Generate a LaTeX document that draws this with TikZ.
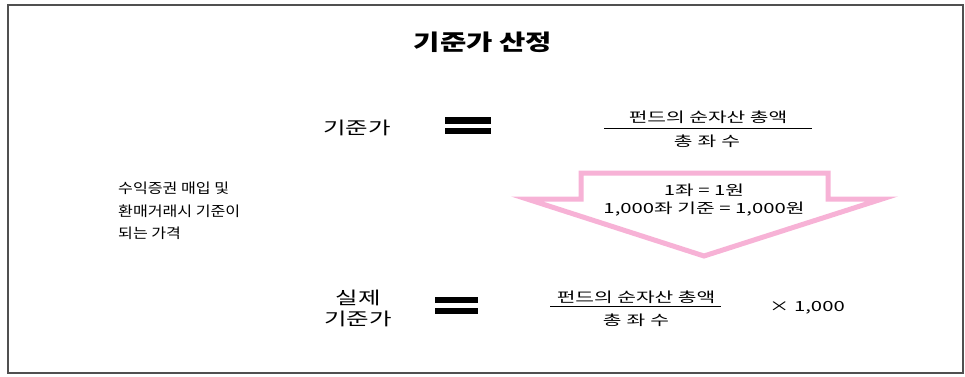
\documentclass[tikz,border=0pt]{standalone}
\usepackage{fontspec}
\setmainfont{Noto Sans CJK KR}
\newfontfamily\krA[FakeStretch=1.45]{Noto Sans CJK KR}
\newfontfamily\krB[FakeStretch=1.15]{Noto Sans CJK KR}
\newfontfamily\krT[FakeStretch=1.3]{Noto Sans CJK KR}
\newfontfamily\krL[FakeStretch=1.4]{Noto Sans CJK KR}
\definecolor{arrowpink}{RGB}{247,178,214}
\definecolor{frameg}{RGB}{80,80,80}
\begin{document}
\begin{tikzpicture}[x=1pt,y=-1pt,
  lbl/.style={font=\fontsize{17.5}{21}\selectfont\krL, inner sep=0pt, align=center},
  frac/.style={font=\fontsize{14}{16}\selectfont\krA, inner sep=0pt},
  small/.style={font=\fontsize{14}{22.5}\selectfont\krB, inner sep=0pt, align=left},
  bar/.style={fill=black, draw=none},
  fracline/.style={draw=black, line width=0.8pt},
  bigarrow/.style={draw=arrowpink, line width=5pt, fill=white, line join=miter}]
\useasboundingbox (0,0) rectangle (965,376);
\draw[frameg, line width=1.2pt] (8,5) rectangle (963,373);
\node[font=\fontsize{22}{24}\selectfont\bfseries\krT, inner sep=0pt] (title) at (483,42) {기준가 산정};
% first row
\node[lbl] (lab1) at (357,128) {기준가};
\fill[bar] (445,117) rectangle (491,124);
\fill[bar] (445,128) rectangle (491,134);
\node[frac] (num1) at (708,117) {펀드의 순자산 총액};
\draw[fracline] (604,128) -- (812,128);
\node[frac] (den1) at (707,141) {총\hspace{5pt}좌\hspace{5pt}수};
% arrow
\draw[bigarrow] (581,173) -- (828,173) -- (828,199) -- (882,199) -- (704,256) -- (527,199) -- (581,199) -- cycle;
\node[frac] (a1) at (704,190) {1좌 = 1원};
\node[frac] (a2) at (704,209) {1,000좌 기준 = 1,000원};
% left text
\node[small, anchor=north west] (left) at (118,182) {수익증권 매입 및\\환매거래시 기준이\\되는 가격};
% second row
\node[lbl] (lab2) at (358,308) {실제\\기준가};
\fill[bar] (435,297) rectangle (478,303);
\fill[bar] (435,308) rectangle (478,314);
\node[frac] (num2) at (636,297) {펀드의 순자산 총액};
\draw[fracline] (550,306) -- (721,306);
\node[frac] (den2) at (636,320) {총\hspace{5pt}좌\hspace{5pt}수};
\node[frac] (times) at (807,308) {× 1,000};
\end{tikzpicture}
\end{document}
